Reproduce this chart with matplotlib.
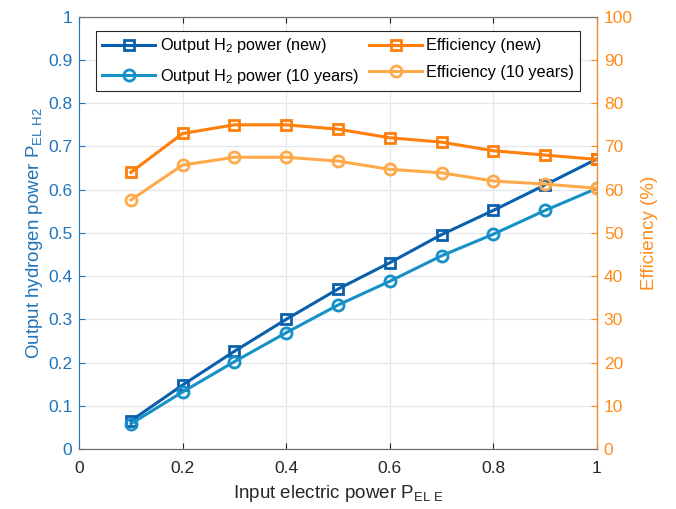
import matplotlib
matplotlib.use('Agg')
import matplotlib.pyplot as plt

plt.rcParams['font.family'] = ['Liberation Sans', 'DejaVu Sans']
plt.rcParams['mathtext.fontset'] = 'custom'
plt.rcParams['mathtext.rm'] = 'Liberation Sans'
plt.rcParams['mathtext.it'] = 'Liberation Sans'

# data
p_in = [0.1, 0.2, 0.3, 0.4, 0.5, 0.6, 0.7, 0.8, 0.9, 1.0]
h2_new = [0.065, 0.148, 0.226, 0.300, 0.370, 0.431, 0.496, 0.552, 0.611, 0.671]
h2_10y = [0.058, 0.132, 0.202, 0.269, 0.333, 0.388, 0.447, 0.497, 0.552, 0.603]
eff_new = [64, 73, 75, 75, 74, 72, 71, 69, 68, 67]
eff_10y = [57.6, 65.7, 67.5, 67.5, 66.6, 64.7, 63.9, 62.0, 61.3, 60.3]

c_blue = '#0A60AC'
c_lblue = '#1591C8'
c_orange = '#FF7F0A'
c_lorange = '#FFAA4A'
c_laxis = '#1F74BB'
c_raxis = '#FF8C1A'

fig = plt.figure(figsize=(6.76, 5.09), dpi=100)
ax = fig.add_axes([0.117, 0.118, 0.766, 0.849])
ax2 = ax.twinx()

l1, = ax.plot(p_in, h2_new, '-s', color=c_blue, lw=2.2, ms=7, mfc='none', mew=2,
              label='Output H$_2$ power (new)')
l2, = ax.plot(p_in, h2_10y, '-o', color=c_lblue, lw=2.2, ms=8, mfc='none', mew=2,
              label='Output H$_2$ power (10 years)')
l3, = ax2.plot(p_in, eff_new, '-s', color=c_orange, lw=2.2, ms=7, mfc='none', mew=2,
               label='Efficiency (new)')
l4, = ax2.plot(p_in, eff_10y, '-o', color=c_lorange, lw=2.2, ms=8, mfc='none', mew=2,
               label='Efficiency (10 years)')

ax.set_xlim(0, 1)
ax.set_ylim(0, 1)
ax2.set_ylim(0, 100)
ax.set_xticks([0, 0.2, 0.4, 0.6, 0.8, 1])
ax.set_xticklabels(['0', '0.2', '0.4', '0.6', '0.8', '1'])
ax.set_yticks([i / 10 for i in range(11)])
ax.set_yticklabels(['0'] + ['0.%d' % i for i in range(1, 10)] + ['1'])
ax2.set_yticks(range(0, 101, 10))

ax.grid(True, color='#E3E6EC', lw=0.9)
ax.set_axisbelow(True)

ax.tick_params(axis='x', direction='in', colors='#262626', labelsize=12.5, length=4, top=True, pad=8.5)
ax.tick_params(axis='y', direction='in', colors=c_laxis, labelsize=12.5, length=4, pad=5)
ax2.tick_params(axis='y', direction='in', colors=c_raxis, labelsize=12.5, length=4, pad=5)
for s in ['top', 'bottom']:
    ax.spines[s].set_color('#6E6E6E')
ax.spines['left'].set_color(c_laxis)
ax2.spines['left'].set_visible(False)
ax2.spines['right'].set_color(c_raxis)
ax2.spines['top'].set_color('#6E6E6E')
ax2.spines['bottom'].set_color('#6E6E6E')

ax.set_xlabel(r'Input electric power P$_{\mathrm{EL\ E}}$', fontsize=13.5, color='#262626', labelpad=5)
ax.set_ylabel(r'Output hydrogen power P$_{\mathrm{EL\ H2}}$', fontsize=13.5, color=c_laxis, labelpad=2)
ax2.set_ylabel('Efficiency (%)', fontsize=13.5, color=c_raxis, labelpad=6)

leg = ax2.legend(handles=[l1, l2, l3, l4], ncol=2, loc='upper left',
                 bbox_to_anchor=(0.033, 0.968), borderaxespad=0, fontsize=11.7,
                 fancybox=False, edgecolor='#262626', framealpha=1, handlelength=3.3,
                 columnspacing=0.6, handletextpad=0.25, borderpad=0.35, labelspacing=0.7)
leg.get_frame().set_linewidth(0.8)

fig.savefig('out.png', dpi=100)
